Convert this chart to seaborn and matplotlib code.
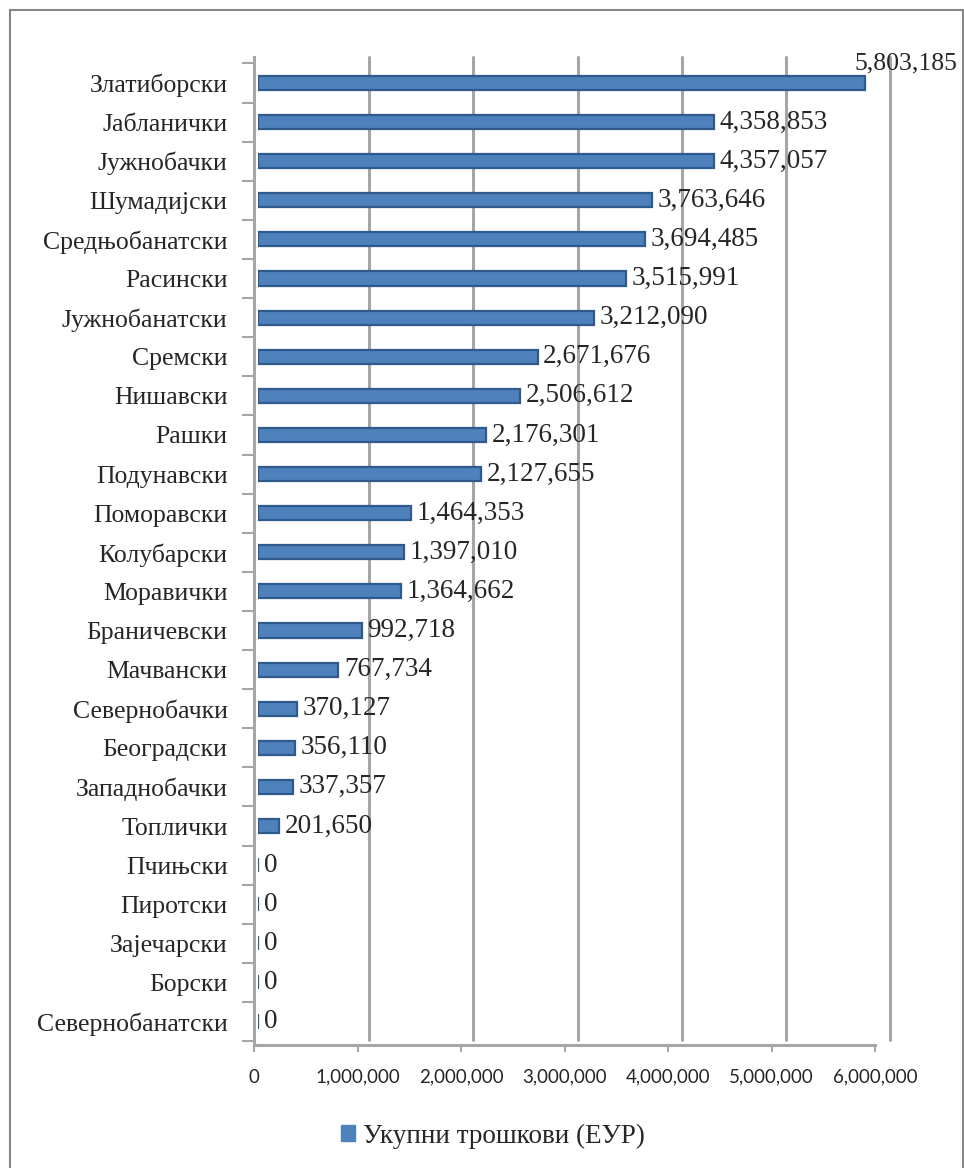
import matplotlib
matplotlib.use("Agg")
import matplotlib.pyplot as plt
import seaborn as sns
import pandas as pd
import numpy as np
from matplotlib.patches import Rectangle
from matplotlib.ticker import FuncFormatter, FixedLocator

categories = ["Златиборски", "Јабланички", "Јужнобачки", "Шумадијски", "Средњобанатски",
              "Расински", "Јужнобанатски", "Сремски", "Нишавски", "Рашки", "Подунавски",
              "Поморавски", "Колубарски", "Моравички", "Браничевски", "Мачвански",
              "Севернобачки", "Београдски", "Западнобачки", "Топлички", "Пчињски",
              "Пиротски", "Зајечарски", "Борски", "Севернобанатски"]
values = [5803185, 4358853, 4357057, 3763646, 3694485, 3515991, 3212090, 2671676,
          2506612, 2176301, 2127655, 1464353, 1397010, 1364662, 992718, 767734,
          370127, 356110, 337357, 201650, 0, 0, 0, 0, 0]
series_name = "Укупни трошкови (ЕУР)"
x_ticks = [0, 1000000, 2000000, 3000000, 4000000, 5000000, 6000000]

df = pd.DataFrame({"region": categories, "cost": values})

sns.set_style("white")
plt.rcParams["font.family"] = ["Liberation Serif", "DejaVu Serif"]

W, H = 964, 1168
fig = plt.figure(figsize=(W / 100, H / 100), dpi=100)
grid_c = "#A6A6A6"
XMAX = 6000000
YLIM = (24.6, -0.665)

def px_axes(x0, x1, ytop, ybot, **kw):
    return fig.add_axes([x0 / W, (H - ybot) / H, (x1 - x0) / W, (ybot - ytop) / H], **kw)

# back wall: gridlines (3D depth)
ax_grid = px_axes(265, 890, 57, 1040)
ax_grid.set_xlim(0, XMAX)
ax_grid.set_ylim(0, 1)
for xv in x_ticks[1:]:
    ax_grid.axvline(xv, color=grid_c, lw=2.2, clip_on=False)
ax_grid.axis("off")

# front plane: axis line, ticks and tick labels
ax = px_axes(254, 875, 57, 1045)
ax.patch.set_alpha(0)
ax.set_xlim(0, XMAX)
ax.set_ylim(*YLIM)
ax.set_yticks(range(len(categories)))
ax.set_yticklabels(categories)
ax.xaxis.set_major_locator(FixedLocator(x_ticks))
ax.xaxis.set_major_formatter(FuncFormatter(lambda v, p: f"{int(v):,}"))
for s in ["top", "right"]:
    ax.spines[s].set_visible(False)
for s in ["left", "bottom"]:
    ax.spines[s].set_color(grid_c)
    ax.spines[s].set_linewidth(2.2)
ax.tick_params(axis="x", which="major", bottom=True, direction="out", length=5, width=1.5,
               color=grid_c, labelsize=13.5, pad=12)
for lab in ax.get_xticklabels():
    lab.set_fontfamily("Lato")
ax.tick_params(axis="y", which="major", left=True, length=0, labelsize=18.5, pad=19)
ax.yaxis.set_minor_locator(FixedLocator(np.arange(-0.5, 25, 1)))
ax.tick_params(axis="y", which="minor", left=True, direction="out", length=9, width=1.5,
               color=grid_c)

# bars (mid depth)
ax_bar = px_axes(258, 886, 57, 1045)
ax_bar.patch.set_alpha(0)
bar_color = "#4F81BD"
sns.barplot(data=df, x="cost", y="region", orient="h", color=bar_color,
            width=0.36, saturation=1, edgecolor="#2E5A8C", linewidth=1.6, ax=ax_bar)
ax_bar.set_xlim(0, XMAX)
ax_bar.set_ylim(*YLIM)
ax_bar.axis("off")

for i, v in enumerate(values):
    if i == 0:
        ax_bar.annotate(f"{v:,}", xy=(v, i), xytext=(-8, 6), textcoords="offset points",
                        ha="left", va="bottom", fontsize=18.5)
    else:
        ax_bar.annotate(f"{v:,}", xy=(v, i), xytext=(4, 0), textcoords="offset points",
                        ha="left", va="center", fontsize=19.5)

handle = Rectangle((0, 0), 1, 1, color=bar_color)
fig.legend([handle], [series_name], loc="center", bbox_to_anchor=(493 / W, (H - 1136) / H),
           frameon=False, fontsize=19.5, handlelength=0.5, handleheight=0.5, handletextpad=0.3)

fig.patches.append(Rectangle((10 / W, -0.01), (963 - 10) / W, (H - 10) / H + 0.01,
                             transform=fig.transFigure, fill=False, edgecolor="#868686",
                             lw=1.5))

fig.savefig("out.png", dpi=100)
